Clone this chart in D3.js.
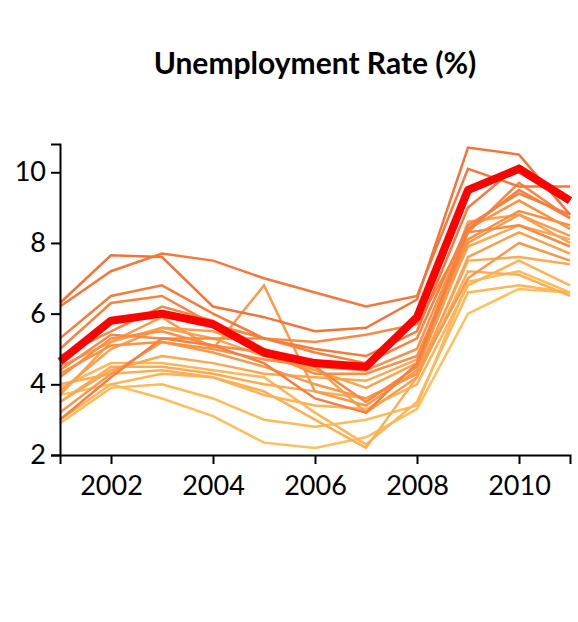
<!DOCTYPE html>
<html>
<head>
<meta charset="utf-8">
<script src="https://cdn.jsdelivr.net/npm/d3@7"></script>
<style>
body { margin: 0; background: #fff; }
text { font-family: Lato, "Open Sans", sans-serif; }
</style>
</head>
<body>
<svg width="578" height="622"></svg>
<script>
var years = [2001, 2002, 2003, 2004, 2005, 2006, 2007, 2008, 2009, 2010, 2011];

// national average (bold red line)
var national = [4.65, 5.8, 6.0, 5.7, 4.9, 4.6, 4.5, 5.9, 9.5, 10.1, 9.2];

// individual series, darkest first
var states = [
  [6.3, 7.65, 7.6, 6.2, 5.9, 5.5, 5.6, 6.4, 10.7, 10.5, 8.8],
  [6.2, 7.2, 7.7, 7.5, 7.0, 6.6, 6.2, 6.5, 10.1, 9.6, 9.6],
  [5.3, 6.5, 6.8, 6.0, 5.3, 5.0, 4.8, 5.5, 9.0, 10.2, 9.2],
  [3.0, 4.2, 5.3, 5.1, 4.6, 3.6, 3.2, 4.6, 8.4, 9.5, 8.7],
  [5.0, 6.3, 6.5, 5.7, 5.3, 4.9, 4.6, 5.3, 8.5, 9.4, 8.8],
  [4.8, 5.5, 6.2, 5.8, 5.0, 4.5, 3.5, 4.5, 8.3, 9.7, 8.7],
  [4.4, 5.4, 5.3, 5.3, 5.3, 5.2, 5.4, 5.7, 8.3, 8.5, 7.9],
  [4.2, 5.3, 5.5, 5.1, 4.9, 4.3, 4.3, 4.8, 8.1, 8.9, 8.5],
  [4.3, 5.1, 5.2, 5.0, 4.7, 4.5, 4.4, 5.0, 8.4, 9.2, 8.4],
  [3.2, 4.3, 5.2, 4.9, 4.5, 4.0, 3.6, 4.3, 7.0, 8.0, 7.5],
  [4.5, 5.2, 5.9, 5.0, 6.8, 3.8, 3.4, 4.4, 8.0, 8.8, 8.2],
  [3.8, 5.0, 5.6, 5.5, 5.0, 4.5, 3.2, 4.2, 7.6, 8.3, 7.7],
  [3.7, 5.2, 5.6, 5.3, 4.8, 4.4, 3.9, 4.6, 8.6, 8.8, 8.0],
  [3.5, 4.4, 4.8, 4.6, 4.3, 4.2, 4.1, 4.7, 7.9, 8.5, 8.1],
  [3.5, 4.5, 4.5, 4.3, 4.0, 3.8, 3.6, 4.3, 7.5, 7.6, 7.4],
  [4.0, 4.3, 4.4, 4.2, 3.8, 3.0, 2.2, 4.2, 7.2, 7.1, 6.5],
  [3.0, 4.0, 4.3, 4.2, 3.7, 3.4, 3.3, 4.0, 6.8, 7.5, 6.8],
  [3.9, 4.6, 4.6, 4.4, 4.2, 3.2, 2.3, 3.5, 6.6, 6.8, 6.6],
  [2.9, 3.9, 4.0, 3.6, 3.0, 2.8, 3.0, 3.4, 6.9, 7.2, 6.6],
  [3.7, 4.0, 3.6, 3.1, 2.35, 2.2, 2.5, 3.3, 6.0, 6.7, 6.6]
];

var yTicks = [2, 4, 6, 8, 10];
var xTicks = [2002, 2004, 2006, 2008, 2010];

var svg = d3.select('svg');
var margin = {left: 60, right: 8, top: 144, bottom: 167};
var w = 578 - margin.left - margin.right;
var h = 622 - margin.top - margin.bottom;
var g = svg.append('g').attr('transform', 'translate(' + margin.left + ',' + margin.top + ')');

var x = d3.scaleLinear().domain([2001, 2011]).range([0, w]);
var y = d3.scaleLinear().domain([2, 10.8]).range([h, 0]);

var color = d3.scaleLinear().domain([0, states.length - 1]).range(['#f4733a', '#ffbf5c']);

var line = d3.line()
  .x(function(d, i) { return x(years[i]); })
  .y(function(d) { return y(d); });

g.selectAll('.state')
  .data(states.slice().reverse())
  .enter().append('path')
  .attr('class', 'state')
  .attr('d', line)
  .attr('fill', 'none')
  .attr('stroke', function(d, i) { return color(states.length - 1 - i); })
  .attr('stroke-width', 2.5);

g.append('path')
  .datum(national)
  .attr('d', line)
  .attr('fill', 'none')
  .attr('stroke', '#ff0000')
  .attr('stroke-width', 8)
  .attr('stroke-linejoin', 'round');

var xAxis = g.append('g')
  .attr('transform', 'translate(0,' + h + ')')
  .call(d3.axisBottom(x).tickValues(xTicks).tickFormat(d3.format('d')).tickSize(9).tickSizeOuter(9));
var yAxis = g.append('g')
  .call(d3.axisLeft(y).tickValues(yTicks).tickSize(9).tickSizeOuter(9));

[xAxis, yAxis].forEach(function(a) {
  a.selectAll('path, line').attr('stroke', '#000').attr('stroke-width', 2);
  a.selectAll('text').style('font-size', '27px').attr('fill', '#000');
});
xAxis.selectAll('text').attr('dy', '1.05em');
yAxis.selectAll('text').attr('x', -14);

svg.append('text')
  .attr('x', 315)
  .attr('y', 74)
  .attr('text-anchor', 'middle')
  .style('font-size', '30px')
  .style('font-weight', 'bold')
  .text('Unemployment Rate (%)');
</script>
</body>
</html>
